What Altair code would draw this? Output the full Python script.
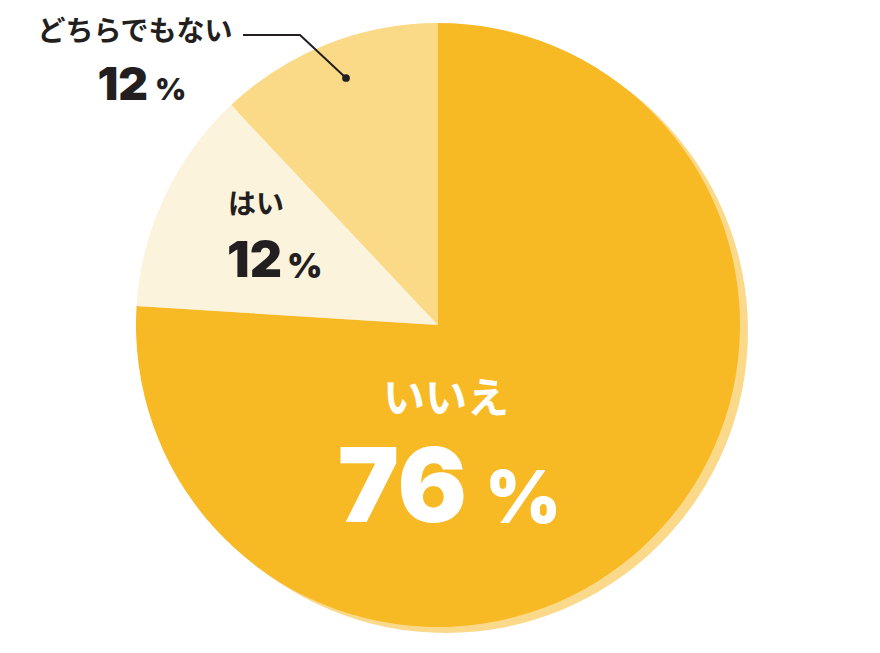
import altair as alt
import pandas as pd

categories = ["いいえ", "はい", "どちらでもない"]
values = [76, 12, 12]
colors = ["#F7B924", "#FCF3DD", "#FADA86"]
pct_digits = ["76", "12", "12"]

pie_df = pd.DataFrame({"label": categories, "value": values, "order": [0, 1, 2]})
shadow_df = pd.DataFrame({"value": [100]})

CX, CY, R = 430, 317, 302

shadow = alt.Chart(shadow_df).mark_arc(radius=R, color="#FBD98B", strokeWidth=0).encode(
    theta=alt.Theta("value:Q", scale=alt.Scale(domain=[0, 100])),
    x=alt.value(CX + 8), y=alt.value(CY + 6),
)

pie = alt.Chart(pie_df).mark_arc(radius=R, strokeWidth=0).encode(
    theta=alt.Theta("value:Q", stack=True, scale=alt.Scale(domain=[0, 100])),
    order=alt.Order("order:Q"),
    color=alt.Color("label:N", scale=alt.Scale(domain=categories, range=colors), legend=None),
    x=alt.value(CX), y=alt.value(CY),
)

one = pd.DataFrame({"a": [0]})
DARK = "#231F20"
JP = "Noto Sans CJK JP"
NUM = "Inter"

def txt(text, x, y, size, color, font, align="center", baseline="alphabetic", weight="bold"):
    return alt.Chart(one).mark_text(
        text=text, fontSize=size, font=font, fontWeight=weight, color=color,
        align=align, baseline=baseline,
    ).encode(x=alt.value(x), y=alt.value(y))

texts = [
    # どちらでもない
    txt(categories[2], 127, 25, 28, DARK, JP, baseline="middle"),
    txt(pct_digits[2], 140, 92, 46, DARK, NUM, align="right", weight=900),
    txt("%", 147, 92, 30, DARK, NUM, align="left", weight=900),
    # はい
    txt(categories[1], 248, 198, 28, DARK, JP, baseline="middle"),
    txt(pct_digits[1], 274, 269, 50, DARK, NUM, align="right", weight=900),
    txt("%", 279, 270, 34, DARK, NUM, align="left", weight=900),
    # いいえ
    txt(categories[0], 438, 392, 42, "white", JP, baseline="middle"),
    txt(pct_digits[0], 459, 514, 103, "white", NUM, align="right", weight=900),
    txt("%", 477, 515, 73, "white", NUM, align="left", weight=900),
]

leader_df = pd.DataFrame({"px": [235, 292, 338], "py": [27, 27, 70], "o": [0, 1, 2]})
leader = alt.Chart(leader_df).mark_line(color=DARK, strokeWidth=2).encode(
    x=alt.X("px:Q", scale=alt.Scale(domain=[0, 864]), axis=None),
    y=alt.Y("py:Q", scale=alt.Scale(domain=[0, 637], reverse=True), axis=None),
    order="o:Q",
)
dot = alt.Chart(leader_df.iloc[[2]]).mark_point(filled=True, color=DARK, size=60, opacity=1).encode(
    x=alt.X("px:Q", scale=alt.Scale(domain=[0, 864]), axis=None),
    y=alt.Y("py:Q", scale=alt.Scale(domain=[0, 637], reverse=True), axis=None),
)

chart = alt.layer(shadow, pie, leader, dot, *texts).resolve_scale(theta="independent").properties(
    width=864, height=637, autosize=alt.AutoSizeParams(type="none"), padding=0,
    background="white",
).configure_view(strokeWidth=0, stroke="transparent")

chart.save("out.html", embed_options={"renderer": "svg", "actions": False})
